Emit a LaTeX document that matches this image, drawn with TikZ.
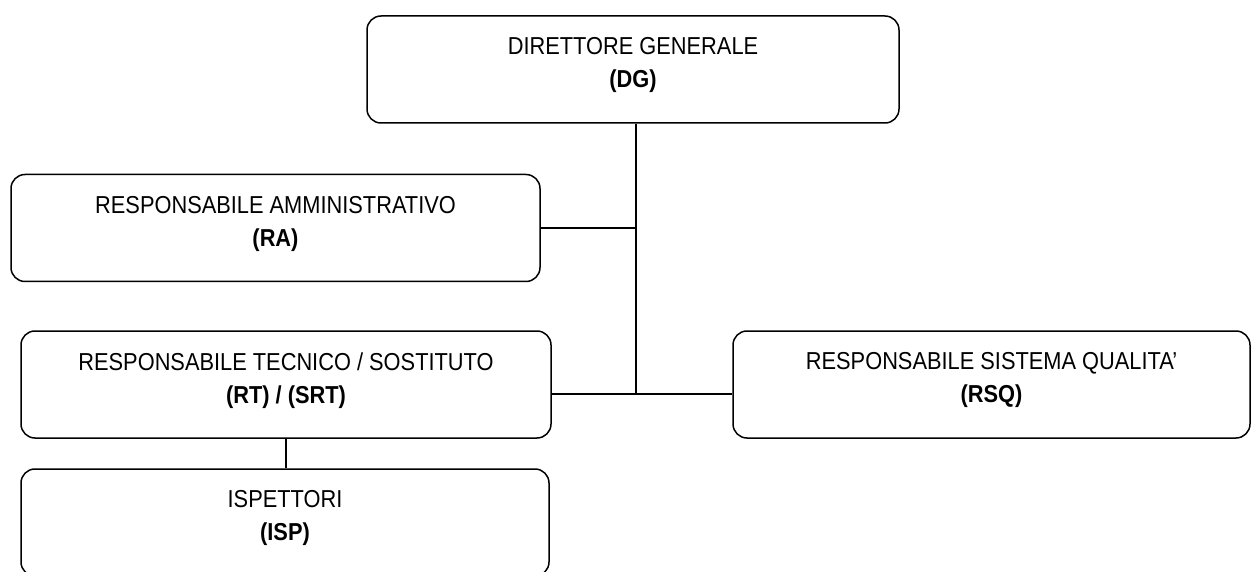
\documentclass[tikz,border=0pt]{standalone}
\usepackage{fontspec}
\setmainfont[FakeStretch=0.89]{Liberation Sans}

\begin{document}
\begin{tikzpicture}[x=1pt, y=-1pt, line width=1.5pt,
	every node/.style={font=\fontsize{24.5}{33}\selectfont},
	box/.style={draw, rounded corners=14pt, align=center, inner sep=0pt, minimum height=107pt, execute at end node=\rule[-13.5pt]{0pt}{0pt}}]
		\useasboundingbox (0, 0) rectangle (1251, 572);
		
		\node[box, minimum width=532pt] (dg) at (633, 69.5) {DIRETTORE GENERALE\\\textbf{(DG)}};
		\node[box, minimum width=529pt] (ra) at (275.5, 228) {RESPONSABILE AMMINISTRATIVO\\\textbf{(RA)}};
		\node[box, minimum width=530pt] (rt) at (286, 384.5) {RESPONSABILE TECNICO / SOSTITUTO\\\textbf{(RT) / (SRT)}};
		\node[box, minimum width=528pt] (isp) at (285, 522.5) {ISPETTORI\\\textbf{(ISP)}};
		\node[box, minimum width=517pt] (rsq) at (991.5, 384.5) {RESPONSABILE SISTEMA QUALITA'\\\textbf{(RSQ)}};
		
		\coordinate (j) at (636, 394);
		\draw (dg.south -| j) -- (j);
		\draw (ra.east) -- (ra.east -| j);
		\draw (rt.east |- j) -- (rsq.west |- j);
		\draw (rt.south) -- (rt.south |- isp.north);
		
	\end{tikzpicture}
\end{document}
